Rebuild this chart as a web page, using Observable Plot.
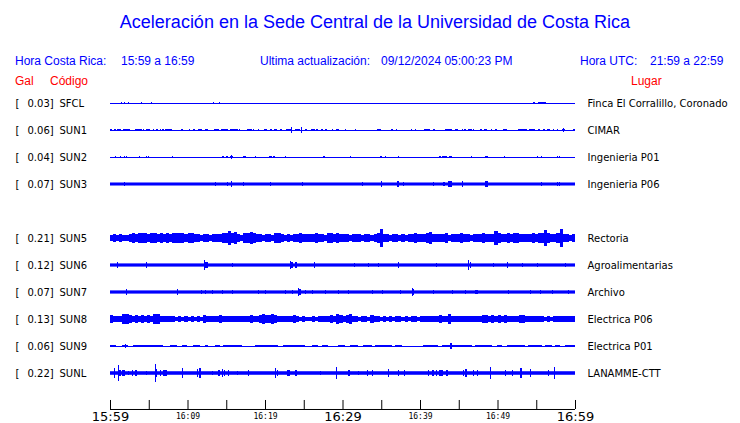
<!DOCTYPE html>
<html><head><meta charset="utf-8">
<script src="https://cdn.jsdelivr.net/npm/d3@7"></script>
<script src="https://cdn.jsdelivr.net/npm/@observablehq/plot@0.6"></script>
<style>
body{margin:0;background:#fff}
#wrap{position:relative;width:740px;height:423px;overflow:hidden;background:#fff}
.h{position:absolute;white-space:pre;font-family:"Liberation Sans",Arial,sans-serif;font-size:12px;line-height:12px;color:#0000ff}
.t{position:absolute;left:0;width:750px;text-align:center;font-family:"Liberation Sans",Arial,sans-serif;font-size:18px;line-height:18px;color:#0000ff;top:13px}
.r{color:#ff0000}
#chart{position:absolute;left:0;top:90px}
</style></head><body>
<div id="wrap">
<div class="t">Aceleración en la Sede Central de la Universidad de Costa Rica</div>
<div class="h" style="left:15px;top:55px">Hora Costa Rica:</div>
<div class="h" style="left:121px;top:55px">15:59 a 16:59</div>
<div class="h" style="left:260px;top:55px">Ultima actualización:</div>
<div class="h" style="left:381px;top:55px">09/12/2024 05:00:23 PM</div>
<div class="h" style="left:580px;top:55px">Hora UTC:</div>
<div class="h" style="left:650px;top:55px">21:59 a 22:59</div>
<div class="h r" style="left:15px;top:75px">Gal</div>
<div class="h r" style="left:50px;top:75px">Código</div>
<div class="h r" style="left:631px;top:75px">Lugar</div>
<div id="chart"></div>
</div>
<script>
// ---- data ----
const codes  = ["SFCL","SUN1","SUN2","SUN3","SUN5","SUN6","SUN7","SUN8","SUN9","SUNL"];
const rows   = [0,1,2,3,5,6,7,8,9,10];
const peaks  = ["0.03","0.06","0.04","0.07","0.21","0.12","0.07","0.13","0.06","0.22"];
const places = ["Finca El Corralillo, Coronado","CIMAR","Ingenieria P01","Ingenieria P06","Rectoria","Agroalimentarias","Archivo","Electrica P06","Electrica P01","LANAMME-CTT"];
// continuous band half-width (hundredths of gal)
const baseAmp = [0,0,0,3.6,0,3.8,3.8,0,0,4.2];

// minutes after 15:59
const tickMinutes = [0,5,10,15,20,25,30,35,40,45,50,55,60];
const bigTickMin = [0,30,60];
const bigTickLab = ["15:59","16:29","16:59"];
const smallTickMin = [10,20,40,50];
const smallTickLab = ["16:09","16:19","16:39","16:49"];

// events: [start minute, end minute, half amplitude (hundredths of gal)]
const sfclEv = [[1.42,1.55,3.5],[1.85,1.98,3.5],[2.37,2.5,2.5],[3.95,4.1,2.5],[5.33,5.46,3.5],[13.33,13.46,2.5],[14.0,14.13,3.5],[54.55,54.85,3.5],[55.2,56.3,3.5]];
const sun1Ev = [[0,0.22,3.5],[0.56,0.77,2.5],[0.9,1.42,3.5],[1.63,2.58,3.5],[2.8,2.88,2.5],[3.23,4.09,3.5],[4.3,4.43,2.5],[4.65,5.16,3.5],[5.59,5.72,2.5],[5.89,6.24,3],[6.45,6.54,2.5],[6.75,7.01,3],[7.14,8.04,3.5],[9.16,9.38,3],[10.19,10.37,2.5],[10.75,10.97,3],[11.4,11.83,3],[12.26,12.6,3],[13.46,14.06,3.5],[14.32,15.27,3.5],[15.48,16.56,3.5],[16.69,16.82,2.5],[17.63,18.28,3.5],[18.49,18.62,2.5],[19.05,19.18,2.5],[19.91,20.26,3],[20.65,20.86,3],[21.12,21.55,3.5],[21.89,22.15,3],[22.71,23.31,3.5],[23.31,23.45,7],[23.45,23.53,3.5],[23.87,24.52,3.5],[24.65,24.75,7],[25.16,25.42,3],[25.94,26.45,3],[26.62,26.8,2.5],[27.23,27.53,3],[27.74,28.0,3],[28.6,28.82,2.5],[29.12,29.59,3.5],[30.32,30.41,2.5],[31.61,31.74,2.5],[34.41,34.97,3.5],[36.26,36.47,3],[36.9,37.03,2.5],[38.84,39.01,2.5],[39.35,39.48,2.5],[40.52,41.29,3.5],[41.72,41.94,3],[43.23,44.09,3.5],[44.52,44.95,3.5],[45.38,45.59,2.5],[45.72,45.98,3],[46.15,46.67,3.5],[46.84,47.01,2.5],[47.74,48.04,3],[48.3,48.65,3],[49.16,49.33,2.5],[49.72,49.94,2.5],[50.75,51.18,3],[52.69,53.76,3.5],[54.11,54.84,3.5],[55.27,55.48,3],[55.91,56.13,2.5],[56.34,56.77,3.5],[57.2,57.33,2.5],[57.63,57.85,2.5],[58.37,58.71,3],[58.5,58.6,5],[59.7,60,3.5]];
const sun2Ev = [[0.65,0.78,3],[1.29,1.42,2],[1.85,1.98,3],[2.1,2.23,3],[3.78,3.91,2],[4.65,4.78,2.5],[4.95,5.08,2],[7.96,8.09,2],[14.49,14.71,2.5],[14.92,15.27,3],[15.48,15.87,3],[15.6,15.75,4.5],[17.12,17.51,3],[18.71,18.84,2],[20.56,20.86,3],[20.99,21.29,3],[22.58,22.71,2],[27.44,27.74,2.5],[30.97,31.1,2],[34.84,35.05,2.5],[35.48,35.61,2],[37.2,37.33,2],[42.49,42.71,2.5],[42.88,43.53,3],[43.78,44.09,3],[46.58,46.71,2.5],[48.39,48.73,3],[50.88,51.01,2],[55.14,55.27,3],[55.55,55.7,3],[57.63,57.76,2.5],[57.94,58.07,2.5]];
const sun3Ev = [[1.85,1.98,5],[13.55,13.68,5.5],[15.05,15.18,5.5],[15.61,15.74,8],[17.2,17.33,5],[20.6,20.73,5.5],[24.73,24.86,5],[32.56,32.69,5],[34.97,35.1,6.5],[37.08,37.29,6],[37.85,37.98,5.5],[41.63,41.76,5],[43.01,43.23,5],[43.57,44.09,6],[45.38,45.51,7.5],[48.39,48.73,6.5],[55.61,55.74,5],[57.63,57.76,5.5],[57.94,58.07,5]];
const sun6Ev = [[0.86,0.99,6],[4.6,4.73,8],[12.17,12.3,12.5],[12.3,12.47,8],[12.47,12.7,6],[15.7,15.83,5],[23.23,23.36,9.5],[23.4,23.66,6],[23.9,24.09,6.5],[26.37,26.5,7],[31.53,31.66,5],[33.33,33.46,5],[34.62,34.75,5],[37.12,37.25,6.5],[42.02,42.15,5],[46.24,46.37,11],[46.4,46.6,6],[49.46,49.59,5],[51.18,51.31,6],[53.12,53.25,5],[55.05,55.18,5],[58.71,58.84,5]];
const sun7Ev = [[2.02,2.15,6],[8.6,8.73,7],[11.7,11.83,5],[12.26,12.39,5.5],[13.12,13.25,5],[14.41,14.54,5],[15.7,15.83,5],[19.14,19.27,5],[20.0,20.13,5],[22.58,22.71,5],[23.44,23.57,5.5],[24.3,24.43,8.5],[24.43,24.6,6],[25.16,25.29,5],[26.02,26.15,5],[27.74,27.87,5],[29.46,29.59,5],[30.75,30.88,5],[33.76,33.89,5],[35.05,35.18,5],[37.42,37.55,5],[38.92,39.05,8.5],[39.05,39.2,6],[41.72,41.85,5.5],[44.09,44.22,5],[45.81,45.94,5],[47.1,47.53,5],[51.4,51.53,5],[54.19,54.32,5.5],[55.48,55.61,5],[56.99,57.12,5],[59.05,59.18,5.5]];
const sun9Ev = [[0,0.73,2.8],[1.5,2.37,2.8],[1.9,2.03,4.5],[3.01,6.88,2.8],[7.74,8.6,2.8],[9.25,9.89,2.8],[10.75,11.61,2.8],[12.26,12.69,2.8],[13.55,14.19,2.8],[14.62,16.99,2.8],[18.71,21.72,2.8],[22.37,25.16,2.8],[26.02,26.88,2.8],[27.31,28.17,2.8],[29.46,30.32,2.8],[30.97,32.04,2.8],[32.69,33.76,2.8],[34.19,36.34,2.8],[36.77,37.63,2.8],[40.43,42.37,2.8],[42.8,46.67,2.8],[43.87,44.1,6],[47.1,49.25,2.8],[49.89,50.54,2.8],[51.18,53.55,2.8],[53.98,55.7,2.8],[56.13,56.99,2.8],[57.42,58.06,2.8],[58.71,60,2.8]];
const sunlEv = [[0.56,0.69,13],[1.08,1.21,20],[1.21,1.4,8],[1.5,1.94,6],[2.37,2.5,5.5],[2.8,2.95,6],[3.2,3.44,6],[4.6,4.73,5.5],[5.81,5.94,21],[5.94,6.1,9],[6.45,6.6,6],[6.9,7.31,6],[9.25,9.46,11],[11.18,11.3,10],[11.5,11.7,11],[13.12,13.25,5.5],[13.98,14.2,6],[14.4,14.6,9],[14.7,14.84,7],[15.27,15.4,6],[16.34,16.47,5.5],[17.85,17.98,6],[21.29,21.42,11],[21.5,21.63,7],[22.8,23.23,6],[23.87,24.09,6],[27.1,27.23,5.5],[29.16,29.29,15],[30.75,30.97,7],[32.04,32.17,5.5],[33.12,33.25,6],[33.5,33.6,6],[33.85,33.98,6],[35.91,36.04,9],[37.2,37.33,6],[37.9,38.06,6],[41.08,41.2,6],[41.6,41.75,7],[42.1,42.25,6.5],[42.5,43.0,6],[43.4,43.66,6],[45.59,45.72,7],[45.85,46.02,9],[46.88,47.0,6],[47.4,47.53,6],[49.03,49.16,15],[50.97,51.1,6],[51.83,51.96,6],[52.9,53.12,12],[54.19,54.32,10],[56.56,56.69,6],[57.33,57.46,15]];
const eventsByCode = {SFCL:sfclEv,SUN1:sun1Ev,SUN2:sun2Ev,SUN3:sun3Ev,SUN6:sun6Ev,SUN7:sun7Ev,SUN9:sun9Ev,SUNL:sunlEv};

// dense envelopes: 150 bins over the hour (half amplitude, hundredths of gal)
const sun5Env = [7,9,8,10,7, 8,9,11,10, 12,11,13,10,12, 11,9,12,10,11,9, 12,13,11,12,10, 11,13,10, 9,8,10,9,8,9, 10,9,11, 13,16,12,14, 9,8, 11,13,14,12, 10,9,8,10,9,8, 11,12,10, 8,9,8,10, 10,11,9,10,9, 10,11,9,10,8, 11,12,10,11,9, 9,10,8,9,10,9,8,10,9,8,9, 11,21,10, 9,8,9,10,8,9,8, 9,10,11,9,10,9, 12,15,10, 9,10,9,11,8,9, 10,9,11,9,10,8,9, 10,9,11,10,9,10, 16,11,9, 10,11,9,12,13,10, 9,10,9,11,10, 12,13,20,11, 10,9,11, 21, 9,10,8,9];
const sun8Env = [9,6,7,6, 11,12,10, 8,9,8,9,8,9,8, 12,11, 8,7,8,7,6, 5,6,5,6,5,6,5,6,5, 10,8, 8,7,8,9,7,8,7,8, 8,7,8,7,8,9,8,7, 10,11,9,10,11,9,8, 7,6,7,6, 10,8, 5,6,5,5,6,5,6, 8,7,8,9,8, 11,9, 8,9, 11,8, 6,5,6,6,5, 10,8, 6,5,6,5,6,5,6,6,5, 6,5,6,6,5,6, 8,7,8,7,8,9,8,7, 11, 8,7,8,8,7, 8,7,8,7,8, 10,9,8, 9,8,9,8,9, 7,6,7,7, 10,9, 7,6,7,6,7, 6,5,6,5, 7,8,7,6,8,7,8];
const envByCode = {SUN5:sun5Env,SUN8:sun8Env};

// ---- build ----
const ROW = 0.64;        // gal between trace baselines
const G = 0.01;          // hundredths of gal -> gal
const T0 = tickMinutes[0], T1 = tickMinutes[tickMinutes.length-1];
const AXIS = 11.333*ROW;
const TICK = ROW/3;
const BLUE = "#0000ff";

const stations = codes.map((c,i)=>({code:c,row:rows[i],peak:peaks[i],place:places[i],base:baseAmp[i]}));
const bands = [];
const rects = [];
for (const s of stations) {
  const c = s.row*ROW;
  if (s.base>0) bands.push({x1:T0,x2:T1,y1:c-s.base*G,y2:c+s.base*G});
  for (const [a,b,amp] of (eventsByCode[s.code]||[])) rects.push({x1:a,x2:b,y1:c-amp*G,y2:c+amp*G});
  const env = envByCode[s.code];
  if (env) {
    const w = (T1-T0)/env.length;
    env.forEach((amp,i)=>rects.push({x1:T0+i*w,x2:T0+(i+1)*w,y1:c-amp*G,y2:c+amp*G}));
  }
}
const bigTicks = bigTickMin.map((t,i)=>({t,label:bigTickLab[i]}));
const smallTicks = smallTickMin.map((t,i)=>({t,label:smallTickLab[i]}));

const chart = Plot.plot({
  width: 740, height: 333,
  marginLeft: 110, marginRight: 165, marginTop: 0, marginBottom: 0,
  style: {fontFamily: "DejaVu Sans", background: "white", overflow: "visible"},
  x: {domain: [T0, T1], axis: null},
  y: {domain: [0, 10*ROW], range: [13, 283], axis: null},
  marks: [
    Plot.ruleY(stations, {y: d=>d.row*ROW, x1: T0, x2: T1, stroke: BLUE, strokeWidth: 1}),
    Plot.rect(bands, {x1:"x1", x2:"x2", y1:"y1", y2:"y2", fill: BLUE}),
    Plot.rect(rects, {x1:"x1", x2:"x2", y1:"y1", y2:"y2", fill: BLUE, shapeRendering: "crispEdges"}),
    Plot.text(stations, {y: d=>d.row*ROW, text: ()=>"[", frameAnchor: "left", dx: -95, textAnchor: "start", fontSize: 10, fill: "black"}),
    Plot.text(stations, {y: d=>d.row*ROW, text: d=>d.peak+"]", frameAnchor: "left", dx: -83, textAnchor: "start", fontSize: 10, fill: "black"}),
    Plot.text(stations, {y: d=>d.row*ROW, text: d=>d.code, frameAnchor: "left", dx: -51, textAnchor: "start", fontSize: 10, fill: "black"}),
    Plot.text(stations, {y: d=>d.row*ROW, text: d=>d.place, frameAnchor: "right", dx: 12, textAnchor: "start", fontSize: 10, fill: "black"}),
    Plot.ruleY([AXIS], {y: d=>d, x1: T0, x2: T1, stroke: "black", strokeWidth: 1}),
    Plot.ruleX(tickMinutes, {x: d=>d, y1: AXIS, y2: AXIS-TICK, stroke: "black", strokeWidth: 1}),
    Plot.text(bigTicks, {x: "t", y: AXIS, text: "label", dy: 7.5, fontSize: 13, fontWeight: "normal", fill: "black", fontFamily: "DejaVu Sans"}),
    Plot.text(smallTicks, {x: "t", y: AXIS, text: "label", dy: 7, fontSize: 8, fill: "black", fontFamily: "DejaVu Sans Mono"})
  ]
});
document.getElementById("chart").appendChild(chart);
</script>
</body></html>
